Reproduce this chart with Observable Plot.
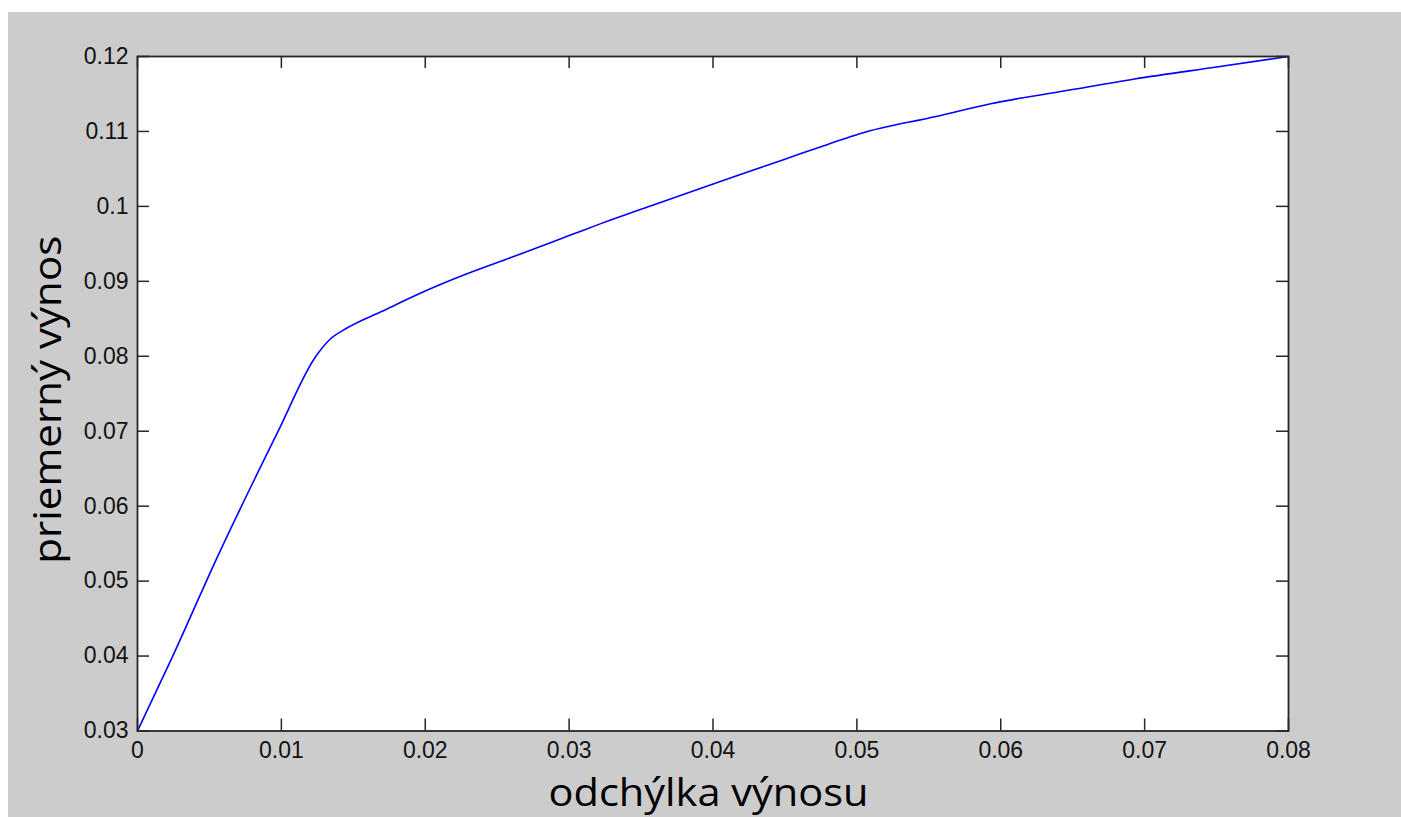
<!DOCTYPE html>
<html><head><meta charset="utf-8">
<script src="https://cdn.jsdelivr.net/npm/d3@7"></script>
<script src="https://cdn.jsdelivr.net/npm/@observablehq/plot@0.6"></script>
<style>html,body{margin:0;padding:0;background:#fff;overflow:hidden;} #chart{position:absolute;left:8px;top:12px;}</style>
</head><body><div id="chart"></div>
<script>
const xValues = [0, 0.0025, 0.0055, 0.0097, 0.0124, 0.0134, 0.0145, 0.0170, 0.0200, 0.0229, 0.0260, 0.0300, 0.0322, 0.0360, 0.0415, 0.0450, 0.0494, 0.0502, 0.0555, 0.0593, 0.0650, 0.0693, 0.0750, 0.0800];
const yValues = [0.0300, 0.0402, 0.0530, 0.0697, 0.0800, 0.0823, 0.0837, 0.0860, 0.0887, 0.0910, 0.0932, 0.0961, 0.0977, 0.1003, 0.1040, 0.1063, 0.1092, 0.1097, 0.1120, 0.1137, 0.1156, 0.1170, 0.1186, 0.1200];
const xTicks = [0, 0.01, 0.02, 0.03, 0.04, 0.05, 0.06, 0.07, 0.08];
const yTicks = [0.03, 0.04, 0.05, 0.06, 0.07, 0.08, 0.09, 0.10, 0.11, 0.12];
const xLabel = "odchýlka výnosu";
const yLabel = "priemerný výnos";

const data = xValues.map((x, i) => ({x, y: yValues[i]}));
const W = 1393, H = 805, mL = 129, mR = 113, mT = 44, mB = 86.5;
const pw = W - mL - mR, ph = H - mT - mB;
const fmt = d => String(+(+d).toFixed(2));
const axisColor = "#262626";
const tickLen = 12;

const chart = Plot.plot({
  width: W, height: H,
  marginLeft: mL, marginRight: mR, marginTop: mT, marginBottom: mB,
  style: {background: "#cccccc", fontFamily: "'Liberation Sans', Arial, sans-serif", fontSize: "23px", color: "#111"},
  x: {domain: [0, 0.08]},
  y: {domain: [0.03, 0.12]},
  marks: [
    Plot.frame({fill: "white", stroke: null}),
    Plot.line(data, {x: "x", y: "y", stroke: "#0000ff", strokeWidth: 1.6, curve: "monotone-x"}),
    Plot.tickX(xTicks, {x: d => d, insetTop: ph - tickLen, stroke: axisColor, strokeWidth: 1.5}),
    Plot.tickX(xTicks, {x: d => d, insetBottom: ph - tickLen, stroke: axisColor, strokeWidth: 1.5}),
    Plot.tickY(yTicks, {y: d => d, insetRight: pw - tickLen, stroke: axisColor, strokeWidth: 1.5}),
    Plot.tickY(yTicks, {y: d => d, insetLeft: pw - tickLen, stroke: axisColor, strokeWidth: 1.5}),
    Plot.axisX(xTicks, {anchor: "bottom", tickSize: 0, tickPadding: 11, tickFormat: fmt, fontSize: 23, fill: "#111", label: null}),
    Plot.axisY(yTicks, {anchor: "left", tickSize: 0, tickPadding: 9, tickFormat: fmt, fontSize: 23, fill: "#111", label: null}),
    Plot.frame({stroke: axisColor, strokeWidth: 1.8}),
    Plot.text([xLabel], {text: d => d, frameAnchor: "bottom", textAnchor: "middle", dx: -4.5, dy: 74.5, lineAnchor: "bottom", fontSize: 38, fontFamily: "'Open Sans', sans-serif", fill: "#000", className: "xlab"}),
    Plot.text([yLabel], {text: d => d, frameAnchor: "left", textAnchor: "middle", rotate: -90, dx: -77, dy: 6, lineAnchor: "bottom", fontSize: 38, fontFamily: "'Open Sans', sans-serif", fill: "#000", className: "ylab"})
  ]
});
document.getElementById("chart").appendChild(chart);
d3.select(chart).selectAll(".xlab text").attr("textLength", 320).attr("lengthAdjust", "spacingAndGlyphs");
d3.select(chart).selectAll(".ylab text").attr("textLength", 328).attr("lengthAdjust", "spacingAndGlyphs");
</script>
</body></html>
